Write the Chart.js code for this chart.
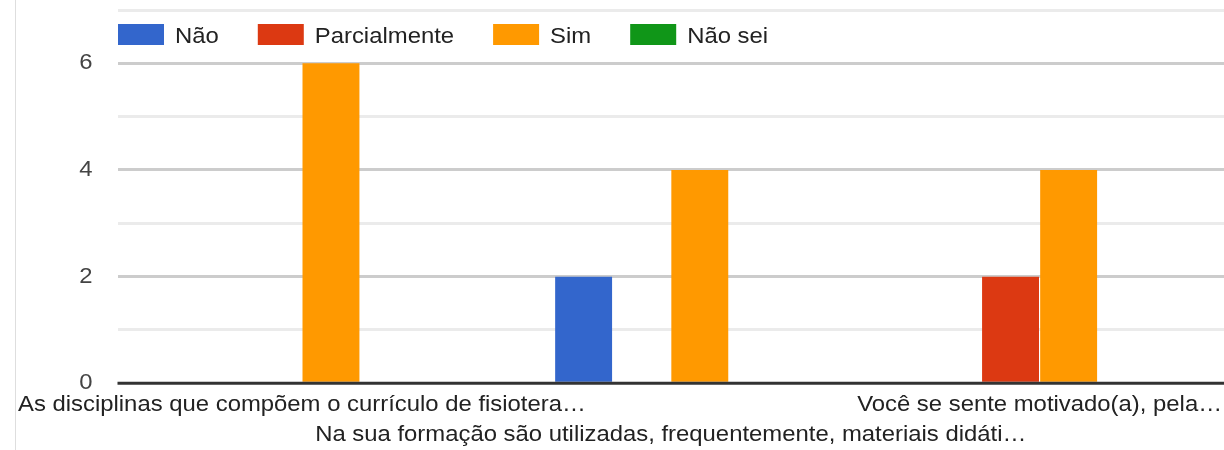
<!DOCTYPE html>
<html><head><meta charset="utf-8">
<script src="https://cdn.jsdelivr.net/npm/chart.js@4.4.1/dist/chart.umd.min.js"></script>
<style>
html,body{margin:0;padding:0;background:#fff;}
#wrap{position:relative;width:1224px;height:450px;overflow:hidden;}
#edge{position:absolute;left:15px;top:0;width:1px;height:450px;background:#dedede;}
canvas{position:absolute;left:0;top:0;}
</style></head>
<body><div id="wrap"><div id="edge"></div><canvas id="c" width="1224" height="450"></canvas></div>
<script>
const categories = [
  'As disciplinas que compõem o currículo de fisiotera…',
  'Na sua formação são utilizadas, frequentemente, materiais didáti…',
  'Você se sente motivado(a), pela…'
];
const seriesNames = ['Não', 'Parcialmente', 'Sim', 'Não sei'];
const seriesColors = ['#3366cc', '#dc3912', '#ff9900', '#109618'];
const naoValues = [0, 2, 0];
const parcialmenteValues = [0, 0, 2];
const simValues = [6, 4, 4];
const naoSeiValues = [0, 0, 0];
const yTickLabels = ['0', '2', '4', '6'];
const yMax = 7;

const seriesValues = [naoValues, parcialmenteValues, simValues, naoSeiValues];
const FONT = '"Liberation Sans", Arial, sans-serif';
const K = 1.085; // horizontal text stretch seen in the reference

const canvas = document.getElementById('c');
const c2d = canvas.getContext('2d');
const origFill = c2d.fillText.bind(c2d);
c2d.fillText = function (t, x, y, mw) {
  this.save();
  this.translate(x, y);
  this.scale(K, 1);
  if (mw === undefined || mw === null) origFill(t, 0, 0);
  else origFill(t, 0, 0, mw / K);
  this.restore();
};

// staggered x labels: every other category on the second line
const xLabels = categories.map((c, i) => i % 2 === 1 ? ['', c] : c);

const datasets = seriesNames.map((name, i) => ({
  label: name,
  data: seriesValues[i],
  backgroundColor: seriesColors[i],
  borderWidth: 0,
  categoryPercentage: 0.63,
  barPercentage: 0.98
}));

const baselinePlugin = {
  id: 'baseline',
  afterDatasetsDraw(chart) {
    const { ctx, chartArea, scales: { y } } = chart;
    const py = y.getPixelForValue(0);
    ctx.save();
    ctx.strokeStyle = '#333333';
    ctx.lineWidth = 3;
    ctx.beginPath();
    ctx.moveTo(chartArea.left, py);
    ctx.lineTo(chartArea.right, py);
    ctx.stroke();
    ctx.restore();
  }
};

const legendPlugin = {
  id: 'topLegend',
  afterDraw(chart) {
    const ctx = chart.ctx;
    ctx.save();
    ctx.font = '22px ' + FONT;
    ctx.textAlign = 'left';
    ctx.textBaseline = 'alphabetic';
    let x = 118;
    chart.data.datasets.forEach((ds) => {
      ctx.fillStyle = ds.backgroundColor;
      ctx.fillRect(x, 24, 46, 21);
      x += 46 + 11;
      ctx.fillStyle = '#222222';
      ctx.fillText(ds.label, x, 43);
      x += ctx.measureText(ds.label).width * K + 39;
    });
    ctx.restore();
  }
};

new Chart(canvas, {
  type: 'bar',
  data: { labels: xLabels, datasets },
  plugins: [baselinePlugin, legendPlugin],
  options: {
    responsive: false,
    animation: false,
    events: [],
    layout: { padding: { top: 10, left: 0, right: 0, bottom: 0 } },
    plugins: { legend: { display: false }, tooltip: { enabled: false } },
    scales: {
      x: {
        grid: { display: false, drawTicks: false },
        border: { display: false },
        ticks: {
          autoSkip: false, maxRotation: 0, minRotation: 0,
          color: '#222222', padding: 7,
          font: { family: FONT, size: 22, lineHeight: 1.36 }
        },
        afterFit(s) { s.height = 66.7; s.paddingLeft = 0; s.paddingRight = 0; }
      },
      y: {
        min: 0, max: yMax,
        border: { display: false },
        grid: {
          drawTicks: false,
          lineWidth: 3,
          color: (ctx) => {
            const v = ctx.tick ? ctx.tick.value : 1;
            if (v === 0) return 'rgba(0,0,0,0)';
            return v % 2 === 0 ? '#cccccc' : '#ebebeb';
          }
        },
        ticks: {
          stepSize: 1, padding: 25, color: '#444444',
          font: { family: FONT, size: 22 },
          callback: (v) => yTickLabels.includes(String(v)) ? String(v) : ''
        },
        afterFit(s) { s.width = 117.5; s.paddingTop = 0; s.paddingBottom = 0; }
      }
    }
  }
});
</script>
</body></html>
